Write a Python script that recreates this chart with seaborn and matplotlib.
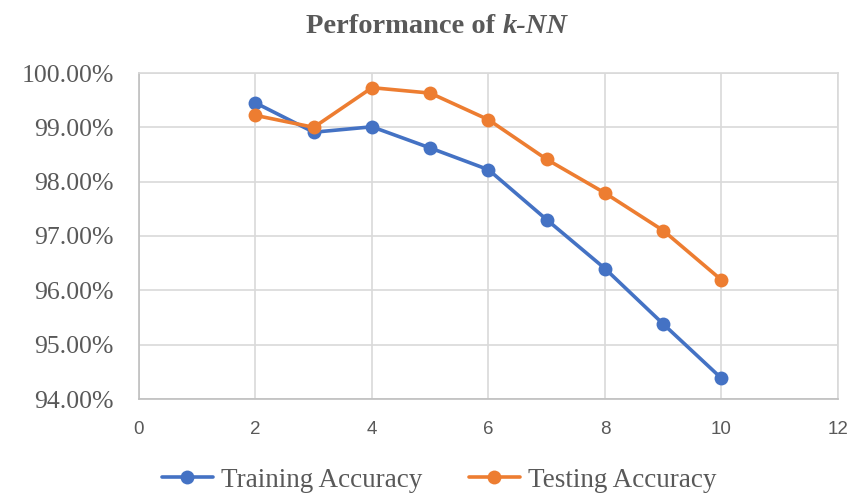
import numpy as np
import pandas as pd
import matplotlib
matplotlib.use("Agg")
import matplotlib.pyplot as plt
import seaborn as sns
from matplotlib.ticker import PercentFormatter

# Donnees
k_values = [2, 3, 4, 5, 6, 7, 8, 9, 10]
training_acc = [99.45, 98.91, 99.01, 98.62, 98.22, 97.30, 96.40, 95.38, 94.38]
testing_acc = [99.22, 99.00, 99.73, 99.63, 99.14, 98.41, 97.79, 97.10, 96.19]
series_names = ["Training Accuracy", "Testing Accuracy"]
colors = ["#4472C4", "#ED7D31"]

df = pd.DataFrame({
    "k": k_values * 2,
    "acc": training_acc + testing_acc,
    "serie": [series_names[0]] * len(k_values) + [series_names[1]] * len(k_values),
})

sns.set_theme(style="white")
plt.rcParams["font.family"] = ["Liberation Serif", "DejaVu Serif"]

fig = plt.figure(figsize=(8.53, 4.96), dpi=100)
ax = fig.add_axes([139 / 853, 1 - 399 / 496, (838 - 139) / 853, (399 - 73) / 496])

sns.lineplot(data=df, x="k", y="acc", hue="serie", palette=colors, marker="o",
             markersize=10, markeredgewidth=0, linewidth=2.6, ax=ax, legend=False)

ax.set_xlim(0, 12)
ax.set_ylim(94, 100)
ax.set_xticks(np.arange(0, 13, 2))
ax.set_yticks(np.arange(94, 100.5, 1))
ax.yaxis.set_major_formatter(PercentFormatter(decimals=2))
ax.set_xlabel("")
ax.set_ylabel("")
ax.grid(True, color="#d9d9d9", linewidth=1.2)
ax.set_axisbelow(True)
for s in ["top", "right"]:
    ax.spines[s].set_color("#d9d9d9")
    ax.spines[s].set_linewidth(1.2)
for s in ["left", "bottom"]:
    ax.spines[s].set_color("#bfbfbf")
    ax.spines[s].set_linewidth(1.2)

ax.tick_params(axis="y", length=0, pad=18, labelsize=18.5, labelcolor="#595959")
ax.tick_params(axis="x", length=0, pad=16, labelcolor="#595959")
for lab in ax.get_xticklabels():
    lab.set_fontfamily("Liberation Sans")
    lab.set_fontsize(13.5)

# Titre avec k-NN en italique
renderer = fig.canvas.get_renderer()
t1 = fig.text(0, 0, "Performance of ", fontsize=20.5, fontweight="bold", color="#595959")
t2 = fig.text(0, 0, "k-NN", fontsize=20.5, fontweight="bold", style="italic", color="#595959")
w1 = t1.get_window_extent(renderer).width
w2 = t2.get_window_extent(renderer).width
x0 = 437 - (w1 + w2) / 2
ty = 1 - 33 / 496
t1.set_position((x0 / 853, ty))
t2.set_position(((x0 + w1) / 853, ty))

handles = [plt.Line2D([], [], color=c, marker="o", markersize=10, markeredgewidth=0, linewidth=2.6)
           for c in colors]
leg = fig.legend(handles, series_names, loc="center", bbox_to_anchor=(0.515, 0.032), ncol=2,
                 frameon=False, fontsize=19.5, handlelength=1.9, handletextpad=0.3,
                 columnspacing=1.7)
for t in leg.get_texts():
    t.set_color("#595959")

fig.savefig("out.png", dpi=100)
